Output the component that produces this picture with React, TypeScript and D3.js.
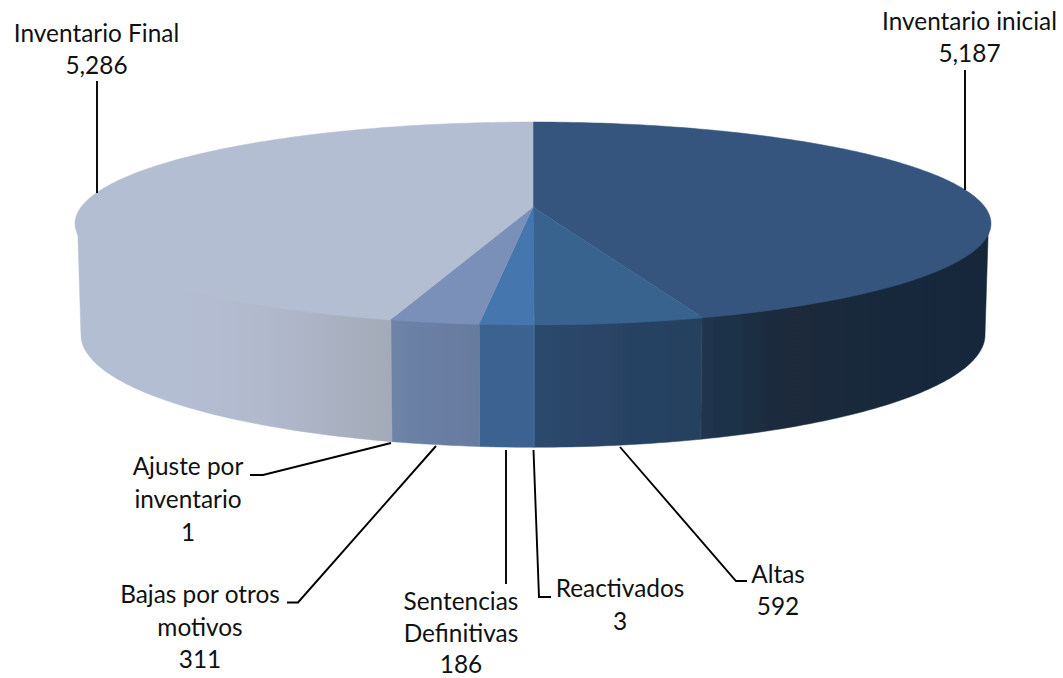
import React from "react";
import * as d3 from "d3";

const W = 1063;
const H = 678;

const categories = ["Inventario inicial", "Altas", "Reactivados", "Sentencias Definitivas", "Bajas por otros motivos", "Ajuste por inventario", "Inventario Final"];
const values = [5187, 592, 3, 186, 311, 1, 5286];
const topColors = ["#34557F", "#39648F", "#4476AE", "#4476AE", "#7A90B8", "#7A90B8", "#B4BED2"];
const sideStartColors = ["#20354F", "#2C4A6E", "#3A6290", "#3B6391", "#6E85A9", "#6E85A9", "#B4BED2"];
const sideMidColors = ["#1A293A", "#2A4567", "#3A6290", "#3A6290", "#6A80A4", "#6A80A4", "#B1BACD"];
const sideEndColors = ["#18283A", "#25405F", "#3A6290", "#3A6290", "#667B9E", "#667B9E", "#A3ABB8"];

// Label lines, anchor centre and baselines; leader polyline
const labelLines = [
  ["Inventario inicial", "5,187"],
  ["Altas", "592"],
  ["Reactivados", "3"],
  ["Sentencias", "Definitivas", "186"],
  ["Bajas por otros", "motivos", "311"],
  ["Ajuste por", "inventario", "1"],
  ["Inventario Final", "5,286"],
];
const labelX = [969.5, 778, 620, 461, 200, 188, 96.5];
const labelY = [30, 583, 597, 610, 603, 475, 42];
const labelStep = [32, 32, 33, 31.5, 32.5, 33, 32];
const leaders: [number, number][][] = [
  [[965, 70], [965, 190]],
  [[620, 447], [736, 581], [747, 581]],
  [[533.5, 450], [539, 597], [551, 597]],
  [[506, 450], [506, 584]],
  [[436, 446], [298, 602.5], [287, 602.5]],
  [[391, 443], [263, 475], [250, 475]],
  [[97, 81], [97, 193]],
];

// Projective mapping of the pie disc
const cx = 533;
const persp = 0.1626;
const topPlane = { y0: 207, a: 98.8, b: 451.9 };
const underPlane = { y0: 204, a: 98.8, b: 449.5 };
const botPlane = { y0: 316.5, a: 109.5, b: 446 };

type Plane = typeof topPlane;
const project = (p: Plane, ang: number): [number, number] => {
  const u = Math.sin(ang);
  const v = -Math.cos(ang);
  const d = 1 - persp * v;
  return [cx + (p.b * u) / d, p.y0 + (p.a * v) / d];
};

const silhouetteR = Math.acos(-persp);
const silhouetteL = 2 * Math.PI - silhouetteR;

const pie = d3.pie<number>().sort(null).value((d) => d).startAngle(0).endAngle(2 * Math.PI);
const arcs = pie(values);
const line = d3.line();

const sampleAngles = (a0: number, a1: number) => {
  const n = Math.max(2, Math.ceil(((a1 - a0) * 180) / Math.PI));
  return d3.range(n + 1).map((i) => a0 + ((a1 - a0) * i) / n);
};

const FONT = "Lato, Carlito, Calibri, sans-serif";

export default function App() {
  return (
    <svg width={W} height={H} viewBox={`0 0 ${W} ${H}`} style={{ position: "absolute", left: 0, top: 0, display: "block", background: "#fff" }}>
      <defs>
        <filter id="soft" x="-5%" y="-5%" width="110%" height="110%">
          <feGaussianBlur stdDeviation={0.6} />
        </filter>
        {arcs.map((a, i) => {
          const s = Math.max(a.startAngle, silhouetteR);
          const e = Math.min(a.endAngle, silhouetteL);
          const x0 = project(topPlane, s)[0];
          const x1 = project(topPlane, e)[0];
          return (
            <linearGradient key={i} id={`side${i}`} gradientUnits="userSpaceOnUse" x1={Math.min(x0, x1)} x2={Math.max(x0, x1)} y1={0} y2={0}>
              <stop offset={i === 6 ? 0.3 : 0} stopColor={sideStartColors[i]} />
              <stop offset={i === 6 ? 0.6 : 0.3} stopColor={sideMidColors[i]} />
              <stop offset={1} stopColor={sideEndColors[i]} />
            </linearGradient>
          );
        })}
      </defs>

      <g filter="url(#soft)">
        {arcs.map((a, i) => {
          const s = Math.max(a.startAngle, silhouetteR);
          const e = Math.min(a.endAngle, silhouetteL);
          if (e <= s) return null;
          const ang = sampleAngles(s, e);
          const pts = [...ang.map((t) => project(underPlane, t)), ...ang.slice().reverse().map((t) => project(botPlane, t))];
          return <path key={i} d={line(pts) + "Z"} fill={`url(#side${i})`} stroke={`url(#side${i})`} strokeWidth={0.5} />;
        })}

        {arcs.map((a, i) => {
          const ang = sampleAngles(a.startAngle, a.endAngle);
          const apex: [number, number] = [cx, topPlane.y0];
          const pts = [apex, ...ang.map((t) => project(topPlane, t))];
          return <path key={i} d={line(pts) + "Z"} fill={topColors[i]} stroke={topColors[i]} strokeWidth={0.5} />;
        })}
      </g>

      {leaders.map((pts, i) => (
        <path key={i} d={line(pts) ?? ""} fill="none" stroke="#000" strokeWidth={1.9} />
      ))}

      {categories.map((c, i) => (
        <text key={c} textAnchor="middle" fontFamily={FONT} fontSize={24.4} fill="#111">
          {labelLines[i].map((t, j) => (
            <tspan key={j} x={labelX[i]} y={labelY[i] + j * labelStep[i]}>
              {j === labelLines[i].length - 1 ? d3.format(",")(values[i]) : t}
            </tspan>
          ))}
        </text>
      ))}
    </svg>
  );
}
